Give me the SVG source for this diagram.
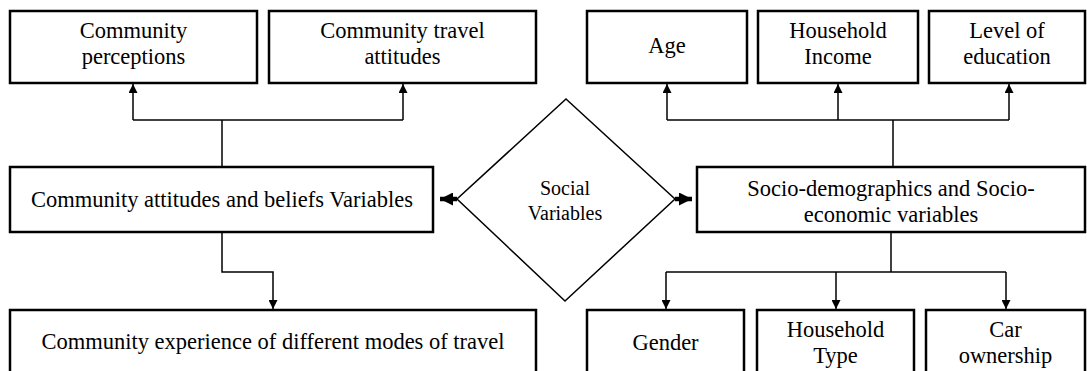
<svg xmlns="http://www.w3.org/2000/svg" width="1087" height="371" viewBox="0 0 1087 371">
  <style>
    .box { fill: #ffffff; stroke: #000000; stroke-width: 2.5; }
    .dia { fill: #ffffff; stroke: #000000; stroke-width: 1.5; }
    .wire { fill: none; stroke: #000000; stroke-width: 1.5; }
    .bar { fill: none; stroke: #000000; stroke-width: 4.5; }
  </style>
  <defs>
    <marker id="tip" viewBox="0 0 10 10" refX="10" refY="5" markerWidth="9" markerHeight="9" markerUnits="userSpaceOnUse" orient="auto">
      <path d="M0,0 L10,5 L0,10 Z" fill="#000000"/>
    </marker>
    <marker id="tipBig" viewBox="0 0 10 10" refX="10" refY="5" markerWidth="13" markerHeight="13" markerUnits="userSpaceOnUse" orient="auto">
      <path d="M0,0 L10,5 L0,10 Z" fill="#000000"/>
    </marker>
  </defs>

  <!-- connectors -->
  <g id="connectors">
    <!-- attitudes → perceptions / travel attitudes -->
    <path class="wire" d="M222,167 V120" />
    <path class="wire" d="M133,120 H403" />
    <path class="wire" d="M133,120 V84" marker-end="url(#tip)" />
    <path class="wire" d="M403,120 V84" marker-end="url(#tip)" />
    <!-- attitudes → experience -->
    <path class="wire" d="M222,233 V272 H273 V309" marker-end="url(#tip)" />
    <!-- socio → age / income / education -->
    <path class="wire" d="M893,167 V120" />
    <path class="wire" d="M667,120 H1009" />
    <path class="wire" d="M667,120 V84" marker-end="url(#tip)" />
    <path class="wire" d="M838,120 V84" marker-end="url(#tip)" />
    <path class="wire" d="M1009,120 V84" marker-end="url(#tip)" />
    <!-- socio → gender / household type / car ownership -->
    <path class="wire" d="M891,233 V272" />
    <path class="wire" d="M666,272 H1006" />
    <path class="wire" d="M666,272 V309" marker-end="url(#tip)" />
    <path class="wire" d="M836,272 V309" marker-end="url(#tip)" />
    <path class="wire" d="M1006,272 V309" marker-end="url(#tip)" />
    <!-- social variables → both sides -->
    <path class="bar" d="M457,199 H440" marker-end="url(#tipBig)" />
    <path class="bar" d="M675,199 H692" marker-end="url(#tipBig)" />
  </g>

  <g font-family="Liberation Serif, Times New Roman, serif" font-size="22.5" fill="#000000" text-anchor="middle">
    <g id="n-perceptions">
      <rect class="box" x="10" y="11" width="247" height="72" />
      <text x="133.5" y="38">Community</text>
      <text x="133.5" y="64">perceptions</text>
    </g>
    <g id="n-travel-attitudes">
      <rect class="box" x="269" y="11" width="267" height="72" />
      <text x="402.5" y="38">Community travel</text>
      <text x="402.5" y="64">attitudes</text>
    </g>
    <g id="n-age">
      <rect class="box" x="587" y="11" width="160" height="72" />
      <text x="667" y="53">Age</text>
    </g>
    <g id="n-income">
      <rect class="box" x="758" y="11" width="160" height="72" />
      <text x="838" y="38">Household</text>
      <text x="838" y="64">Income</text>
    </g>
    <g id="n-education">
      <rect class="box" x="929" y="11" width="156" height="72" />
      <text x="1007" y="38">Level of</text>
      <text x="1007" y="64">education</text>
    </g>

    <g id="n-attitudes">
      <rect class="box" x="10" y="167" width="423" height="65" />
      <text x="222" y="207">Community attitudes and beliefs Variables</text>
    </g>
    <g id="n-social">
      <polygon class="dia" points="566,99 675,199 565,301 457,199" />
      <text font-size="20" x="565" y="195">Social</text>
      <text font-size="20" x="565" y="220">Variables</text>
    </g>
    <g id="n-socio">
      <rect class="box" x="697" y="167" width="388" height="65" />
      <text x="891" y="196">Socio-demographics and Socio-</text>
      <text x="891" y="222">economic variables</text>
    </g>

    <g id="n-experience">
      <rect class="box" x="10" y="310" width="526" height="75" />
      <text x="273" y="349">Community experience of different modes of travel</text>
    </g>
    <g id="n-gender">
      <rect class="box" x="587" y="310" width="157" height="75" />
      <text x="665.5" y="350">Gender</text>
    </g>
    <g id="n-household-type">
      <rect class="box" x="757" y="310" width="157" height="75" />
      <text x="835.5" y="337">Household</text>
      <text x="835.5" y="363">Type</text>
    </g>
    <g id="n-car">
      <rect class="box" x="926" y="310" width="159" height="75" />
      <text x="1005.5" y="337">Car</text>
      <text x="1005.5" y="363">ownership</text>
    </g>
  </g>
</svg>
